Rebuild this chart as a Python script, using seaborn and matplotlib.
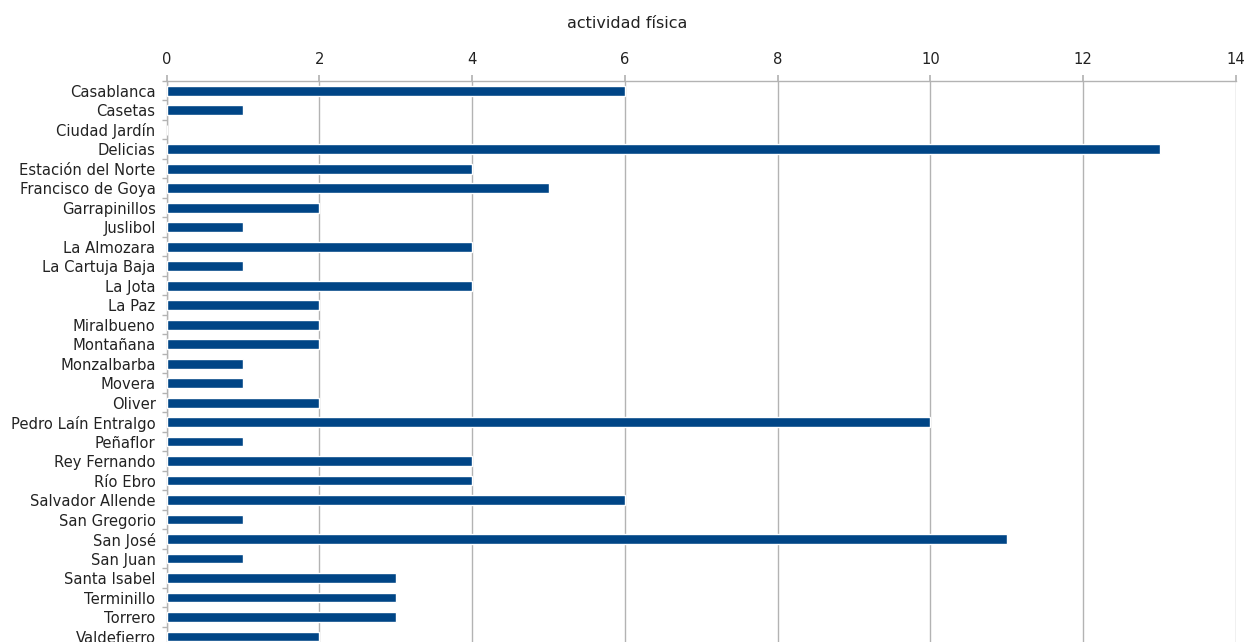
import matplotlib
matplotlib.use("Agg")
import matplotlib.pyplot as plt
import seaborn as sns
import pandas as pd
import numpy as np
from matplotlib.ticker import FixedLocator, MultipleLocator

barrios = ["Casablanca", "Casetas", "Ciudad Jardín", "Delicias", "Estación del Norte",
           "Francisco de Goya", "Garrapinillos", "Juslibol", "La Almozara", "La Cartuja Baja",
           "La Jota", "La Paz", "Miralbueno", "Montañana", "Monzalbarba", "Movera", "Oliver",
           "Pedro Laín Entralgo", "Peñaflor", "Rey Fernando", "Río Ebro", "Salvador Allende",
           "San Gregorio", "San José", "San Juan", "Santa Isabel", "Terminillo", "Torrero",
           "Valdefierro"]
valores = [6, 1, 0, 13, 4, 5, 2, 1, 4, 1, 4, 2, 2, 2, 1, 1, 2, 10, 1, 4, 4, 6, 1, 11, 1, 3, 3, 3, 2]
titulo = "actividad física"

df = pd.DataFrame({"barrio": barrios, "valor": valores})

sns.set_theme(style="white")
plt.rcParams['font.family'] = ['DejaVu Sans']

fig = plt.figure(figsize=(12.46, 6.42), dpi=100)
ax = fig.add_axes([166.7 / 1246, 0.0, (1236 - 166.7) / 1246, 1 - 81 / 642])

sns.barplot(data=df, x="valor", y="barrio", orient="h", color="#004586",
            saturation=1, width=0.5, ax=ax, zorder=3)

ax.set_xlim(0, 14)
ax.set_ylim(28.28, -0.5)
ax.xaxis.set_major_locator(MultipleLocator(2))
ax.xaxis.tick_top()
ax.set_xlabel("")
ax.set_ylabel("")
ax.grid(axis="x", color="#b3b3b3", linewidth=1, zorder=0)
ax.set_axisbelow(True)

for s in ["right", "bottom"]:
    ax.spines[s].set_visible(False)
for s in ["top", "left"]:
    ax.spines[s].set_visible(True)
    ax.spines[s].set_color("#b3b3b3")
    ax.spines[s].set_linewidth(1)

ax.tick_params(axis="x", which="major", top=True, length=4.3, color="#b3b3b3",
               labelsize=10.6, labelcolor="#222222", pad=5.8, direction="out")
ax.tick_params(axis="y", which="major", length=0, labelsize=10.6, labelcolor="#222222", pad=8)
ax.yaxis.set_minor_locator(FixedLocator(np.arange(-0.5, len(barrios), 1.0)))
ax.tick_params(axis="y", which="minor", left=True, length=3.6, color="#b3b3b3", width=1)

fig.text(627 / 1246, 1 - 23 / 642, titulo, ha="center", va="center", fontsize=11.5, color="#222222")

fig.savefig("out.png", dpi=100)
